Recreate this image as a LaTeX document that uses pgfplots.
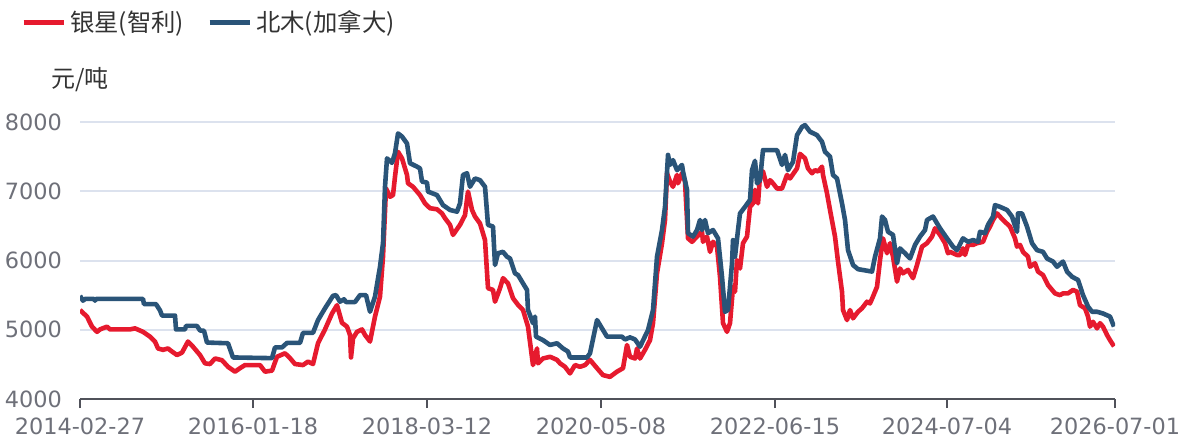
\documentclass[border=0pt]{standalone}
\usepackage{fontspec}
\usepackage{pgfplots}
\pgfplotsset{compat=1.18}
\setmainfont{DejaVu Sans}
\newfontfamily\cjk{Noto Sans CJK SC}
\definecolor{yinxing}{RGB}{230,26,46}
\definecolor{beimu}{RGB}{42,84,120}
\definecolor{gridc}{RGB}{220,226,238}
\definecolor{labelc}{RGB}{110,112,121}
\definecolor{axisc}{RGB}{80,82,90}
\definecolor{textc}{RGB}{51,51,51}

\begin{document}
\begin{tikzpicture}
\path[use as bounding box] (-40pt,-20pt) rectangle (553pt,199.5pt);
\begin{axis}[
  scale only axis, width=517.5pt, height=138.5pt,
  xmin=0, xmax=1035, ymin=4000, ymax=8000,
  xtick={0,173,347,521,695,867,1035},
  xticklabels={2014-02-27,2016-01-18,2018-03-12,2020-05-08,2022-06-15,2024-07-04,2026-07-01},
  ytick={4000,5000,6000,7000,8000},
  yticklabels={4000,5000,6000,7000,8000},
  axis x line*=bottom, axis y line*=left,
  y axis line style={draw=none},
  x axis line style={draw=axisc, line width=0.8pt, -},
  ymajorgrids, grid style={gridc, line width=1pt},
  tick align=outside, major tick length=4.5pt,
  xtick style={draw=axisc, line width=0.8pt},
  ytick style={draw=none},
  ticklabel style={font=\fontsize{11.2}{13}\selectfont, text=labelc},
  yticklabel style={anchor=east, inner sep=0pt, xshift=-4.3pt},
  xticklabel style={anchor=north, inner sep=0pt, yshift=-4.8pt},
  ylabel={元/吨},
  ylabel style={at={(axis description cs:0,1.152)}, rotate=-90, anchor=center,
    font=\cjk\fontsize{12}{14}\selectfont, text=textc},
  legend style={at={(axis description cs:-0.0573,1.3585)}, anchor=west,
    draw=none, fill=none, legend columns=2, inner sep=0pt,
    font=\cjk\fontsize{12.2}{14}\selectfont, text=textc,
    /tikz/every even column/.append style={column sep=9.5pt}},
  legend image code/.code={\draw[#1, line width=2.5pt] (0pt,0pt) -- (20pt,0pt);},
]
\addplot[yinxing, line width=2.3pt, line join=round] coordinates {
(0,5285)(7,5190)(12,5045)(17,4970)(20,5005)(27,5045)(30,5005)(50,5005)(55,5020)
(63,4970)(70,4900)(75,4830)(78,4730)(83,4710)(88,4730)(92,4685)(97,4635)(102,4670)
(108,4830)(113,4755)(120,4635)(125,4515)(130,4505)(135,4585)(142,4560)(148,4465)
(155,4395)(160,4445)(165,4490)(180,4490)(185,4395)(192,4410)(197,4610)(205,4660)
(210,4590)(215,4505)(223,4490)(228,4540)(233,4505)(238,4805)(245,5005)(252,5235)
(257,5355)(262,5100)(267,5045)(270,4925)(271,4600)(273,4875)(277,4970)(282,5005)
(285,4925)(290,4830)(295,5190)(300,5480)(303,6055)(306,7040)(310,6920)(313,6945)
(315,7210)(318,7570)(322,7475)(327,7235)(328,7115)(333,7065)(340,6945)(345,6825)
(350,6755)(357,6740)(362,6680)(365,6610)(370,6515)(373,6370)(380,6515)(385,6655)
(388,6995)(392,6730)(395,6635)(400,6535)(405,6295)(408,5600)(413,5575)(415,5405)
(420,5600)(423,5745)(428,5670)(433,5455)(438,5360)(443,5285)(448,5045)(453,4490)
(455,4610)(457,4730)(458,4515)(463,4585)(470,4610)(477,4565)(480,4515)(485,4465)
(490,4370)(495,4490)(500,4465)(505,4490)(510,4565)(517,4445)(523,4345)(530,4320)
(537,4395)(543,4445)(547,4780)(550,4610)(555,4585)(557,4730)(560,4585)(565,4710)
(570,4850)(573,5095)(577,5815)(582,6250)(585,6585)(587,7260)(590,7140)(593,7065)
(597,7235)(598,7115)(602,7260)(605,7140)(608,6320)(612,6270)(617,6345)(622,6415)
(623,6270)(627,6345)(630,6125)(633,6270)(637,6200)(640,5765)(643,5095)(647,4970)
(650,5095)(653,5620)(655,5550)(657,6005)(660,5885)(663,6250)(667,6345)(670,6775)
(673,6825)(675,7020)(678,6825)(680,7235)(683,7285)(687,7065)(690,7160)(693,7115)
(697,7040)(702,7040)(707,7235)(710,7185)(717,7330)(720,7540)(725,7475)(728,7330)
(732,7260)(735,7305)(738,7285)(742,7355)(743,7235)(747,6970)(750,6730)(755,6345)
(758,5985)(762,5550)(763,5285)(767,5140)(770,5285)(773,5165)(778,5260)(782,5310)
(787,5405)(790,5380)(793,5480)(797,5620)(800,6005)(803,6320)(807,6105)(810,6250)
(813,6055)(817,5695)(820,5885)(823,5815)(828,5865)(833,5745)(837,5935)(842,6200)
(847,6250)(852,6345)(855,6465)(860,6370)(865,6250)(868,6105)(870,6125)(877,6080)
(880,6080)(883,6175)(885,6080)(888,6225)(893,6225)(897,6250)(903,6270)(907,6415)
(910,6490)(913,6585)(917,6680)(923,6585)(930,6490)(935,6320)(937,6200)(940,6225)
(943,6125)(948,6055)(950,5910)(955,5960)(958,5840)(963,5790)(968,5645)(975,5525)
(980,5500)(983,5525)(988,5525)(993,5575)(997,5550)(1000,5355)(1005,5310)(1008,5190)
(1010,5045)(1013,5115)(1017,5020)(1020,5095)(1023,5045)(1027,4925)(1030,4850)(1034,4760)
};
\addlegendentry{银星(智利)}
\addplot[beimu, line width=2.3pt, line join=round] coordinates {
(0,5490)(3,5420)(5,5445)(14,5445)(15,5420)(16,5445)(63,5445)(64,5370)(76,5370)
(80,5280)(82,5205)(95,5205)(96,5005)(105,5005)(106,5055)(117,5055)(120,4990)
(124,4985)(127,4815)(148,4805)(153,4600)(192,4590)(195,4745)(202,4745)(207,4810)
(220,4810)(223,4955)(233,4955)(238,5140)(245,5310)(253,5490)(256,5500)(260,5405)
(264,5440)(266,5400)(275,5400)(280,5500)(286,5500)(290,5260)(295,5480)(300,5910)
(303,6250)(305,7065)(307,7475)(312,7410)(315,7550)(318,7835)(322,7790)(327,7690)
(330,7405)(337,7355)(340,7330)(342,7140)(347,7125)(348,6995)(357,6945)(363,6800)
(370,6730)(377,6705)(380,6825)(383,7235)(387,7260)(390,7065)(395,7185)(400,7160)
(405,7065)(408,6515)(413,6490)(415,5935)(418,6105)(423,6125)(427,6055)(430,6030)
(435,5815)(438,5790)(443,5670)(447,5575)(448,5285)(453,5095)(455,5190)(456,4900)
(463,4850)(470,4780)(477,4805)(483,4730)(488,4685)(490,4600)(507,4600)(510,4660)
(517,5140)(527,4900)(542,4900)(545,4860)(550,4890)(555,4860)(560,4755)(568,4995)
(573,5285)(577,6055)(582,6440)(585,6775)(588,7525)(590,7380)(593,7450)(597,7305)
(602,7380)(603,7285)(607,7020)(608,6395)(613,6345)(617,6440)(620,6585)(622,6440)
(625,6585)(628,6395)(633,6440)(638,6320)(642,5765)(645,5260)(648,5285)(652,5960)
(653,6295)(655,6055)(658,6440)(660,6680)(665,6775)(670,6875)(672,7305)(675,7440)
(677,7115)(680,7160)(683,7595)(697,7595)(702,7380)(705,7525)(708,7305)(713,7425)
(717,7810)(722,7930)(725,7955)(730,7860)(737,7810)(742,7715)(745,7570)(750,7500)
(753,7235)(757,7185)(762,6825)(765,6585)(768,6150)(773,5935)(778,5875)(792,5840)
(795,6055)(800,6320)(802,6635)(805,6585)(808,6415)(813,6370)(817,5960)(820,6175)
(825,6105)(830,6030)(835,6225)(840,6345)(845,6440)(847,6585)(853,6635)(860,6465)
(867,6320)(873,6200)(877,6150)(883,6320)(888,6270)(893,6295)(898,6270)(900,6415)
(905,6395)(908,6515)(913,6635)(915,6800)(920,6775)(927,6730)(932,6635)(937,6415)
(938,6680)(942,6680)(947,6490)(952,6250)(957,6150)(963,6125)(967,6030)(973,5985)
(977,5910)(983,5985)(987,5840)(992,5765)(998,5720)(1003,5500)(1008,5335)(1012,5260)
(1017,5260)(1023,5235)(1030,5190)(1034,5045)
};
\addlegendentry{北木(加拿大)}
\end{axis}
\end{tikzpicture}
\end{document}
